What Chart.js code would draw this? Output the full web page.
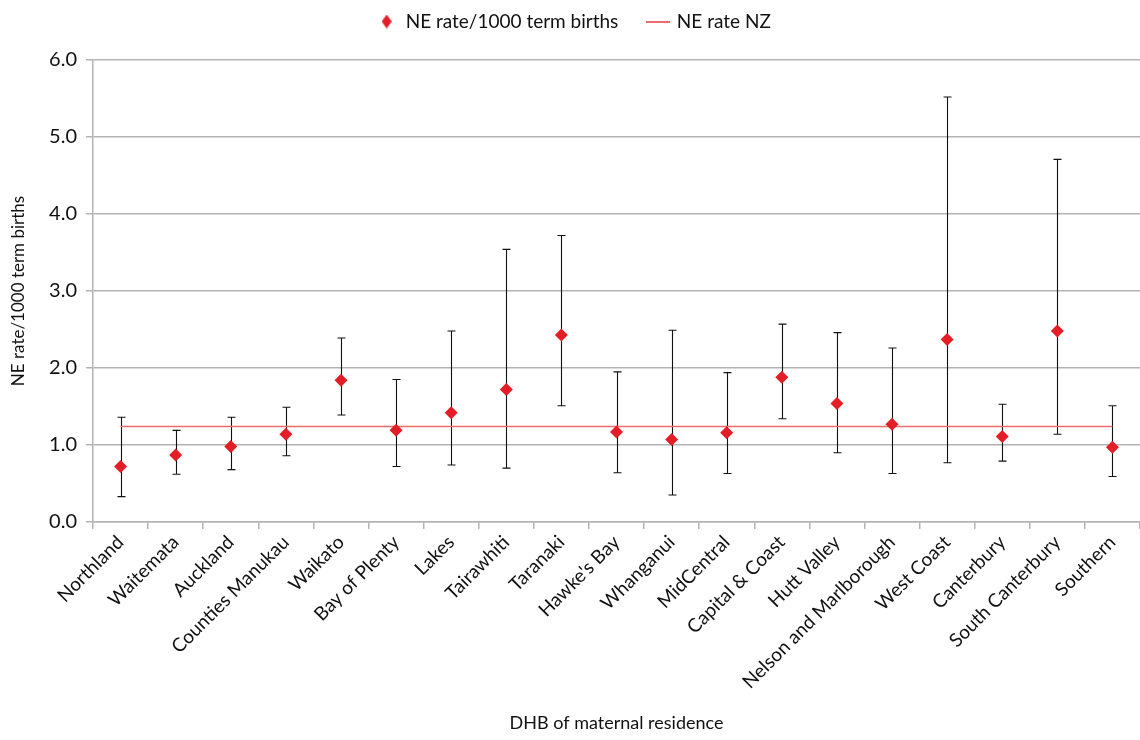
<!DOCTYPE html>
<html>
<head>
<meta charset="utf-8">
<script src="https://cdn.jsdelivr.net/npm/chart.js@4.4.0/dist/chart.umd.min.js"></script>
<style>
  html, body { margin: 0; padding: 0; background: #fff; overflow: hidden; }
  canvas { display: block; }
</style>
</head>
<body>
<canvas id="grafico" width="1140" height="740"></canvas>
<script>
// Dados
const categorias = ['Northland', 'Waitemata', 'Auckland', 'Counties Manukau', 'Waikato',
  'Bay of Plenty', 'Lakes', 'Tairawhiti', 'Taranaki', "Hawke's Bay", 'Whanganui',
  'MidCentral', 'Capital & Coast', 'Hutt Valley', 'Nelson and Marlborough', 'West Coast',
  'Canterbury', 'South Canterbury', 'Southern'];
const taxa = [0.72, 0.87, 0.98, 1.14, 1.84, 1.19, 1.42, 1.72, 2.43, 1.17, 1.07, 1.16, 1.88, 1.54, 1.27, 2.37, 1.11, 2.48, 0.97];
const limiteInf = [0.33, 0.62, 0.68, 0.86, 1.39, 0.72, 0.74, 0.70, 1.51, 0.64, 0.35, 0.63, 1.34, 0.90, 0.63, 0.77, 0.79, 1.14, 0.59];
const limiteSup = [1.36, 1.19, 1.36, 1.49, 2.39, 1.85, 2.48, 3.54, 3.72, 1.95, 2.49, 1.94, 2.57, 2.46, 2.26, 5.52, 1.53, 4.71, 1.51];
const taxaNZ = 1.24;
const ticksY = [0, 1, 2, 3, 4, 5, 6];

const vermelho = '#e41e26';
const cinza = '#b3b3b3';
const fonte = 'Lato, "Open Sans", sans-serif';

// ícones da legenda
function iconeLosango() {
  const c = document.createElement('canvas');
  c.width = 10; c.height = 14;
  const g = c.getContext('2d');
  g.fillStyle = vermelho;
  g.beginPath();
  g.moveTo(5, 0); g.lineTo(10, 7); g.lineTo(5, 14); g.lineTo(0, 7);
  g.closePath(); g.fill();
  return c;
}
function iconeLinha() {
  const c = document.createElement('canvas');
  c.width = 24; c.height = 2;
  const g = c.getContext('2d');
  g.fillStyle = '#ef6b6b';
  g.fillRect(0, 0, 24, 2);
  return c;
}

// barras de erro desenhadas pelas escalas do gráfico
const barrasErro = {
  id: 'barrasErro',
  afterLayout(chart) {
    // ajusta a legenda para perto do topo
    chart.legend.top -= 19;
    chart.legend.bottom -= 19;
  },
  beforeDatasetsDraw(chart) {
    const {ctx, scales: {x, y}} = chart;
    ctx.save();
    ctx.strokeStyle = '#111';
    ctx.lineWidth = 1.1;
    categorias.forEach((c, i) => {
      const px = Math.round(x.getPixelForValue(i)) + 0.5;
      const y1 = y.getPixelForValue(limiteInf[i]);
      const y2 = y.getPixelForValue(limiteSup[i]);
      ctx.beginPath();
      ctx.moveTo(px, y1); ctx.lineTo(px, y2);
      ctx.moveTo(px - 4, y1); ctx.lineTo(px + 4, y1);
      ctx.moveTo(px - 4, y2); ctx.lineTo(px + 4, y2);
      ctx.stroke();
    });
    ctx.restore();
  }
};

new Chart(document.getElementById('grafico'), {
  type: 'line',
  data: {
    labels: categorias,
    datasets: [{
      label: 'NE rate/1000 term births',
      data: taxa,
      showLine: false,
      pointStyle: 'rectRot',
      pointRadius: 6.5,
      pointHoverRadius: 6.5,
      backgroundColor: vermelho,
      borderColor: vermelho,
      borderWidth: 0
    }, {
      label: 'NE rate NZ',
      data: categorias.map(() => taxaNZ),
      borderColor: '#ef6b6b',
      borderWidth: 1.5,
      pointRadius: 0,
      fill: false
    }]
  },
  options: {
    responsive: false,
    animation: false,
    layout: { autoPadding: false, padding: { top: 1, right: 0, left: 8, bottom: 0 } },
    plugins: {
      tooltip: { enabled: false },
      legend: {
        position: 'top',
        labels: {
          usePointStyle: true,
          color: '#111',
          font: { family: fonte, size: 19 },
          padding: 30,
          boxHeight: 14,
          generateLabels(chart) {
            return chart.data.datasets.map((ds, i) => ({
              text: ds.label,
              pointStyle: i === 0 ? iconeLosango() : iconeLinha(),
              fillStyle: 'transparent',
              strokeStyle: 'transparent',
              lineWidth: 0,
              fontColor: '#111',
              datasetIndex: i
            }));
          }
        }
      }
    },
    scales: {
      x: {
        offset: true,
        grid: { offset: true, drawOnChartArea: false, drawTicks: true, tickLength: 7, color: cinza, lineWidth: 1.5 },
        border: { color: cinza, width: 1.5 },
        ticks: { color: '#111', font: { family: fonte, size: 19 }, minRotation: 45, maxRotation: 45, padding: 2, autoSkip: false },
        title: { display: true, text: 'DHB of maternal residence', color: '#111', font: { family: fonte, size: 18 }, padding: { top: 4, bottom: 6 } },
        afterFit(s) { s.height = 218; s.paddingRight = 0; }
      },
      y: {
        min: 0, max: 6,
        afterBuildTicks(s) { s.ticks = ticksY.map(v => ({ value: v })); },
        grid: { color: cinza, lineWidth: 1.5, tickLength: 7 },
        border: { color: cinza, width: 1.5 },
        ticks: { color: '#111', font: { family: fonte, size: 20 }, padding: 9, callback: v => v.toFixed(1) },
        title: { display: true, text: 'NE rate/1000 term births', color: '#111', font: { family: fonte, size: 17 }, padding: { top: 0, bottom: 4 } },
        afterFit(s) { s.width = 85; }
      }
    }
  },
  plugins: [barrasErro]
});
</script>
</body>
</html>
